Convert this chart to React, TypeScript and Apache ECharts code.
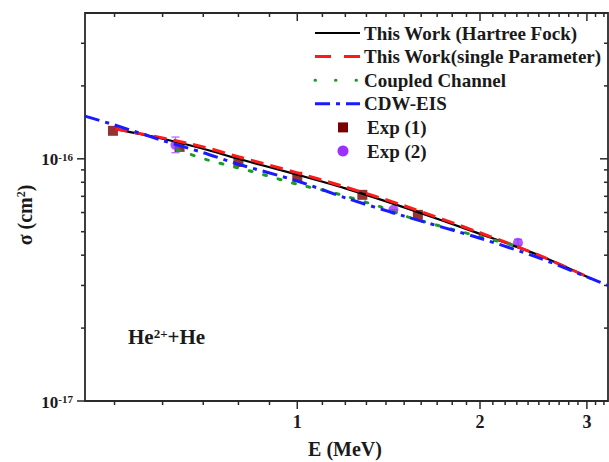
import React, { useEffect, useRef } from "react";
import * as echarts from "echarts";

const FONT = "'Liberation Serif', 'Times New Roman', serif";
const INK = "#1a1a1a";
const AXIS = "#2a2a2a";

// Energy E (MeV); cross sections sigma in units of 1e-16 cm^2
const hfE = [0.5, 0.6, 0.7, 0.8, 1.0, 1.2, 1.5, 2.0, 2.5, 3.05];
const hfSigma = [1.33, 1.21, 1.1, 1.0, 0.86, 0.755, 0.63, 0.49, 0.4, 0.32];

const spE = [0.5, 0.6, 0.7, 0.8, 1.0, 1.2, 1.5, 2.0, 2.5, 3.05];
const spSigma = [1.33, 1.22, 1.12, 1.02, 0.875, 0.765, 0.64, 0.495, 0.4, 0.32];

const ccE = [0.634, 0.711, 0.846, 1.0, 1.133, 1.37, 1.52, 1.95, 2.33];
const ccSigma = [1.09, 0.99, 0.884, 0.785, 0.73, 0.634, 0.576, 0.485, 0.433];

const cdwE = [0.447, 0.5, 0.6, 0.7, 0.8, 1.0, 1.2, 1.5, 2.0, 2.5, 3.05, 3.25];
const cdwSigma = [1.5, 1.38, 1.19, 1.06, 0.95, 0.81, 0.69, 0.58, 0.47, 0.39, 0.32, 0.3];

const exp1E = [0.497, 0.64, 0.8, 1.0, 1.28, 1.58];
const exp1Sigma = [1.305, 1.12, 0.97, 0.843, 0.71, 0.587];

const exp2E = [0.63, 1.44, 2.31];
const exp2Sigma = [1.14, 0.616, 0.45];
const exp2Low = [1.06, 0.616, 0.44];
const exp2High = [1.23, 0.616, 0.465];

// Axes
const X_MIN = 0.447;
const X_MAX = 3.25;
const Y_MIN = 0.1;
const Y_MAX = 4;
const xMajorTicks = [1, 2, 3];
const xMinorTicks = [0.5, 0.6, 0.7, 0.8, 0.9, 1.1, 1.2, 1.3, 1.4, 1.5, 1.6, 1.7, 1.8, 1.9, 2.1, 2.2, 2.3, 2.4, 2.5, 2.6, 2.7, 2.8, 2.9, 3.1, 3.2];
const xTickLabels = ["1", "2", "3"];
const yMajorTicks = [0.1, 1];
const yMinorTicks = [0.2, 0.3, 0.4, 0.5, 0.6, 0.7, 0.8, 0.9, 2, 3];
const yTickExponents = ["-17", "-16"];

const legendNames = [
  "This Work (Hartree Fock)",
  "This Work(single Parameter)",
  "Coupled Channel",
  "CDW-EIS",
  "Exp (1)",
  "Exp (2)",
];

const COLORS = {
  hf: "#000000",
  sp: "#ff1a1a",
  cc: "#1e9a2a",
  cdw: "#1a1aff",
  exp1: "#7a0000",
  exp2: "#9b30ff",
};
const DASH = {
  sp: [13, 7],
  cc: [3, 12],
  cdw: [15, 6, 4, 6],
};

const zip = (a: number[], b: number[]) => a.map((v, i) => [v, b[i]]);

function legendGraphics() {
  const x0 = 315;
  const x1 = 360;
  const tx = 364;
  const y0 = 33;
  const dy = 23.6;
  const els: any[] = [];
  const lineIcon = (i: number, stroke: string, width: number, dash?: number[], cap?: string) =>
    els.push({
      type: "line",
      shape: { x1: x0, y1: y0 + i * dy, x2: x1, y2: y0 + i * dy },
      style: { stroke, lineWidth: width, lineDash: dash, lineCap: cap || "butt" },
    });
  lineIcon(0, COLORS.hf, 2.2);
  lineIcon(1, COLORS.sp, 3, [16, 13]);
  lineIcon(2, COLORS.cc, 3, [0.5, 20], "round");
  lineIcon(3, COLORS.cdw, 3, DASH.cdw);
  els.push({
    type: "rect",
    shape: { x: 338, y: y0 + 4 * dy - 5, width: 10, height: 10 },
    style: { fill: COLORS.exp1 },
  });
  els.push({
    type: "circle",
    shape: { cx: 343, cy: y0 + 5 * dy, r: 5.5 },
    style: { fill: COLORS.exp2 },
  });
  legendNames.forEach((name, i) => {
    els.push({
      type: "text",
      x: i >= 4 ? tx + 3 : tx,
      y: y0 + i * dy,
      style: {
        text: name,
        fontFamily: FONT,
        fontWeight: "bold",
        fontSize: 19,
        fill: INK,
        align: "left",
        verticalAlign: "middle",
      },
    });
  });
  return els;
}

export default function App() {
  const ref = useRef<HTMLDivElement>(null);
  useEffect(() => {
    if (!ref.current) return;
    const chart = echarts.init(ref.current, undefined, { renderer: "svg" });

    const tickData: number[][] = [
      ...xMinorTicks.map((v) => [v, Y_MIN, 0]),
      ...xMajorTicks.map((v) => [v, Y_MIN, 1]),
      ...yMinorTicks.map((v) => [X_MIN, v, 2]),
      ...yMajorTicks.map((v) => [X_MIN, v, 3]),
    ];
    const labelData: any[] = [
      ...xMajorTicks.map((v, i) => [v, Y_MIN, 0, i]),
      ...yMajorTicks.map((v, i) => [X_MIN, v, 1, i]),
    ];

    chart.setOption({
      animation: false,
      backgroundColor: "#ffffff",
      grid: {
        show: true,
        left: 85,
        top: 13,
        right: 1,
        bottom: 61,
        borderColor: AXIS,
        borderWidth: 1.8,
        backgroundColor: "transparent",
      },
      xAxis: {
        type: "log",
        logBase: 10,
        min: X_MIN,
        max: X_MAX,
        axisLine: { show: false },
        axisTick: { show: false },
        axisLabel: { show: false },
        splitLine: { show: false },
      },
      yAxis: {
        type: "log",
        logBase: 10,
        min: Y_MIN,
        max: Y_MAX,
        axisLine: { show: false },
        axisTick: { show: false },
        axisLabel: { show: false },
        splitLine: { show: false },
      },
      graphic: [
        ...legendGraphics(),
        {
          type: "text",
          x: 345,
          y: 449,
          style: {
            text: "E (MeV)",
            fontFamily: FONT,
            fontWeight: "bold",
            fontSize: 20,
            fill: INK,
            align: "center",
            verticalAlign: "middle",
          },
        },
        {
          type: "text",
          x: 25,
          y: 215,
          rotation: Math.PI / 2,
          style: {
            text: "{b|σ (cm}{s|2}{b|)}",
            align: "center",
            verticalAlign: "middle",
            rich: {
              b: { fontFamily: FONT, fontWeight: "bold", fontSize: 20, fill: INK, verticalAlign: "bottom" },
              s: { fontFamily: FONT, fontWeight: "bold", fontSize: 12, fill: INK, verticalAlign: "top" },
            },
          },
        },
        {
          type: "text",
          x: 128,
          y: 337,
          style: {
            text: "{b|He}{s|2+}{b|+He}",
            align: "left",
            verticalAlign: "middle",
            rich: {
              b: { fontFamily: FONT, fontWeight: "bold", fontSize: 21, fill: INK, verticalAlign: "bottom" },
              s: { fontFamily: FONT, fontWeight: "bold", fontSize: 13, fill: INK, verticalAlign: "top" },
            },
          },
        },
      ],
      series: [
        {
          name: "Exp (1)",
          type: "scatter",
          data: zip(exp1E, exp1Sigma),
          symbol: "rect",
          symbolSize: 10,
          itemStyle: { color: COLORS.exp1 },
          z: 2,
        },
        {
          name: "Exp (2)",
          type: "scatter",
          data: zip(exp2E, exp2Sigma),
          symbol: "circle",
          symbolSize: 10,
          itemStyle: { color: COLORS.exp2 },
          z: 2,
        },
        {
          name: "errbar",
          type: "custom",
          silent: true,
          data: exp2E.map((e, i) => [e, exp2Low[i], exp2High[i]]),
          encode: { x: 0, y: [1, 2] },
          renderItem: (_p: any, api: any) => {
            const lo = api.coord([api.value(0), api.value(1)]);
            const hi = api.coord([api.value(0), api.value(2)]);
            const w = 4;
            const st = { stroke: "#b070ff", lineWidth: 1.3 };
            return {
              type: "group",
              children: [
                { type: "line", shape: { x1: lo[0], y1: lo[1], x2: hi[0], y2: hi[1] }, style: st },
                { type: "line", shape: { x1: lo[0] - w, y1: lo[1], x2: lo[0] + w, y2: lo[1] }, style: st },
                { type: "line", shape: { x1: hi[0] - w, y1: hi[1], x2: hi[0] + w, y2: hi[1] }, style: st },
              ],
            };
          },
          z: 2,
        },
        {
          name: legendNames[0],
          type: "line",
          data: zip(hfE, hfSigma),
          symbol: "none",
          smooth: 0.3,
          lineStyle: { color: COLORS.hf, width: 2.2 },
          z: 3,
        },
        {
          name: legendNames[1],
          type: "line",
          data: zip(spE, spSigma),
          symbol: "none",
          smooth: 0.3,
          lineStyle: { color: COLORS.sp, width: 3, type: DASH.sp },
          z: 4,
        },
        {
          name: legendNames[2],
          type: "line",
          data: zip(ccE, ccSigma),
          symbol: "none",
          smooth: 0.3,
          lineStyle: { color: COLORS.cc, width: 3, type: DASH.cc, cap: "round" },
          z: 4,
        },
        {
          name: legendNames[3],
          type: "line",
          data: zip(cdwE, cdwSigma),
          symbol: "none",
          smooth: 0.3,
          lineStyle: { color: COLORS.cdw, width: 3, type: DASH.cdw },
          z: 5,
        },
        {
          name: "ticks",
          type: "custom",
          silent: true,
          data: tickData,
          renderItem: (_p: any, api: any) => {
            const k = api.value(2);
            const x = api.value(0);
            const y = api.value(1);
            const st = { stroke: AXIS, lineWidth: 1.5 };
            if (k < 2) {
              const len = k === 1 ? 8 : 4;
              const b = api.coord([x, Y_MIN]);
              const t = api.coord([x, Y_MAX]);
              return {
                type: "group",
                children: [
                  { type: "line", shape: { x1: b[0], y1: b[1], x2: b[0], y2: b[1] + len }, style: st },
                  { type: "line", shape: { x1: t[0], y1: t[1], x2: t[0], y2: t[1] + len }, style: st },
                ],
              };
            }
            const len = k === 3 ? 8 : 4;
            const l = api.coord([X_MIN, y]);
            const r = api.coord([X_MAX, y]);
            return {
              type: "group",
              children: [
                { type: "line", shape: { x1: l[0], y1: l[1], x2: l[0] - len, y2: l[1] }, style: st },
                { type: "line", shape: { x1: r[0], y1: r[1], x2: r[0] - len, y2: r[1] }, style: st },
              ],
            };
          },
          z: 6,
        },
        {
          name: "ticklabels",
          type: "custom",
          silent: true,
          data: labelData,
          renderItem: (_p: any, api: any) => {
            const k = api.value(2);
            const i = api.value(3);
            if (k === 0) {
              const p = api.coord([api.value(0), Y_MIN]);
              return {
                type: "text",
                x: p[0],
                y: p[1] + 21,
                style: {
                  text: xTickLabels[i],
                  fontFamily: FONT,
                  fontWeight: "bold",
                  fontSize: 18,
                  fill: INK,
                  align: "center",
                  verticalAlign: "middle",
                },
              };
            }
            const p = api.coord([X_MIN, api.value(1)]);
            return {
              type: "text",
              x: p[0] - 12,
              y: p[1] + 1,
              style: {
                text: "{b|10}{s|" + yTickExponents[i] + "}",
                align: "right",
                verticalAlign: "middle",
                rich: {
                  b: { fontFamily: FONT, fontWeight: "bold", fontSize: 17, fill: INK, verticalAlign: "bottom" },
                  s: { fontFamily: FONT, fontWeight: "bold", fontSize: 11, fill: INK, verticalAlign: "top" },
                },
              },
            };
          },
          z: 6,
        },
      ],
    });
    return () => chart.dispose();
  }, []);
  return (
    <div
      ref={ref}
      style={{ position: "fixed", left: 0, top: 0, width: 609, height: 462, background: "#fff" }}
    />
  );
}
